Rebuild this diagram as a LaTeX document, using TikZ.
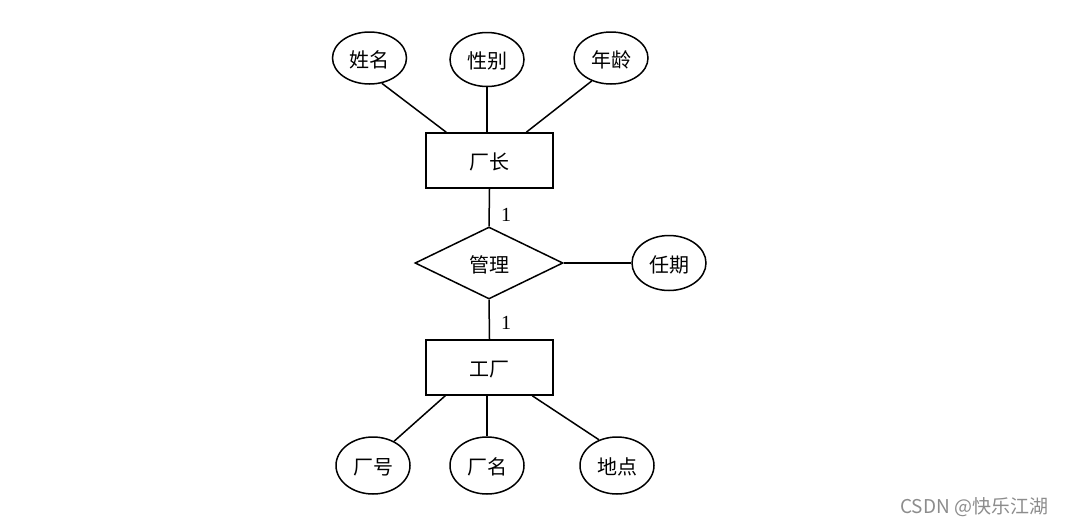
\documentclass[tikz,border=0pt]{standalone}
\usepackage{fontspec}
\setmainfont{Noto Sans CJK SC}
\newfontfamily\numfont{Liberation Serif}
\usetikzlibrary{shapes.geometric,calc}
\tikzset{
  cjk/.style={font=\fontsize{20}{20}\selectfont,text height=18pt,text depth=0pt},
  attr/.style={ellipse,draw,line width=1.5pt,inner sep=0pt,minimum width=74pt,minimum height=52pt,cjk},
  entity/.style={rectangle,draw,line width=1.5pt,inner sep=0pt,minimum width=127pt,minimum height=55pt,cjk},
  rel/.style={diamond,draw,line width=1.5pt,inner sep=0pt,aspect=2,minimum width=148pt,minimum height=72pt,cjk},
  conn/.style={line width=1.5pt},
  card/.style={font=\numfont\fontsize{20}{20}\selectfont,inner sep=0pt},
}
\begin{document}
\begin{tikzpicture}[x=1pt,y=-1pt]
\useasboundingbox (0,0) rectangle (1065,525);
\node[attr] (xm) at (369.5,58) {姓名};
\node[attr,minimum height=54pt] (xb) at (487,59.5) {性别};
\node[attr] (nl) at (611,58) {年龄};
\node[entity] (cz) at (489.5,160.5) {厂长};
\node[rel] (gl) at (489,263) {管理};
\node[attr,minimum height=55pt] (rq) at (669,263) {任期};
\node[entity] (gc) at (489.5,367.5) {工厂};
\node[attr,minimum height=57pt] (ch) at (373,465.5) {厂号};
\node[attr,minimum height=57pt] (cm) at (487,465.5) {厂名};
\node[attr,minimum height=57pt] (dd) at (617,465.5) {地点};

\draw[conn] (xm.296) -- ($(cz.north west)+(21,0)$);
\draw[conn] (xb.south) -- (xb.south |- cz.north);
\draw[conn] (nl.230) -- ($(cz.north west)+(101,0)$);
\draw[conn] (cz.south) -- (gl.north);
\draw[conn] (gl.east) -- (rq.west);
\draw[conn] (gl.south) -- (gc.north);
\draw[conn] ($(gc.south west)+(20,0)$) -- (ch.49);
\draw[conn] (cm.north |- gc.south) -- (cm.north);
\draw[conn] ($(gc.south west)+(107,0)$) -- (dd.125);

\node[card] (c1) at (506,215) {1};
\node[card] (c2) at (506,323) {1};
\node[text=black!45,font=\fontsize{19}{19}\selectfont,anchor=west,inner sep=0pt] (wm) at (900,507) {CSDN @快乐江湖};
\end{tikzpicture}
\end{document}
